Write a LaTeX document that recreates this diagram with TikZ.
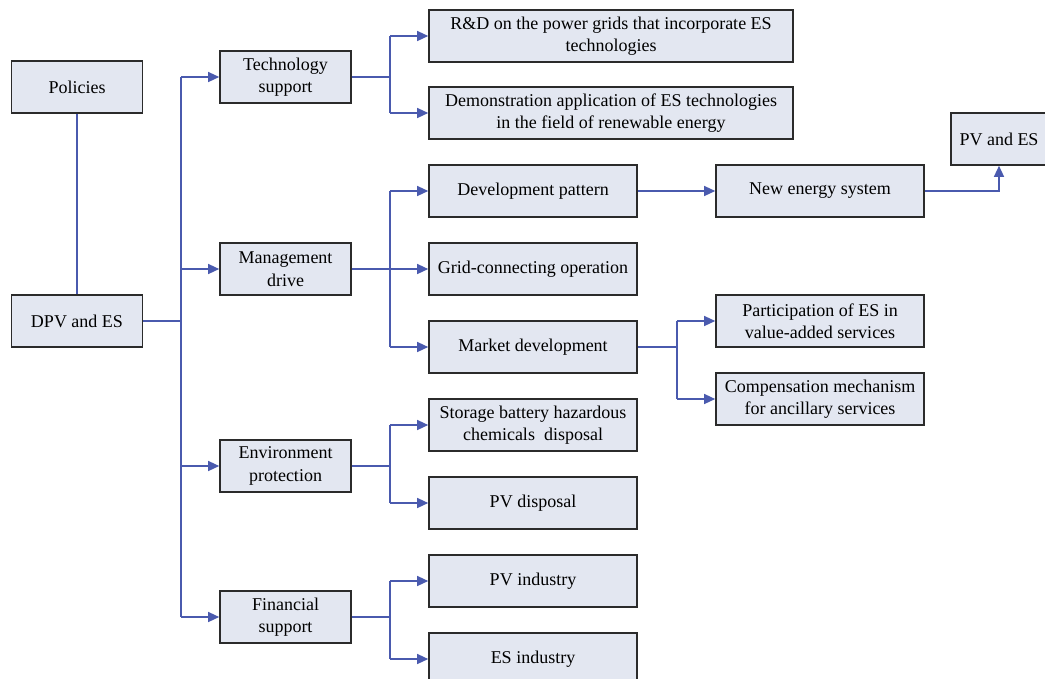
\documentclass[tikz,border=0pt]{standalone}
\usepackage{fontspec}
\setmainfont{Liberation Serif}
\usetikzlibrary{positioning,arrows.meta}
\definecolor{ink}{HTML}{2B2B2B}
\definecolor{boxFill}{HTML}{E3E7F1}
\definecolor{wire}{HTML}{4A5AAE}
\tikzset{
  box/.style={draw=ink, fill=boxFill, line width=1.6pt, align=center, inner sep=2pt,
    minimum height=52pt, font=\fontsize{18}{22.5}\selectfont},
  lvA/.style={box, minimum width=131pt},
  lvB/.style={box, minimum width=208pt},
  lvW/.style={box, minimum width=364pt},
  link/.style={wire, line width=1.3pt},
  feed/.style={link, -{Triangle[length=11pt,width=10pt]}},
}
\begin{document}
\begin{tikzpicture}[x=1pt,y=-1pt]
\useasboundingbox (0,0) rectangle (1045,678);
% left column
\node[lvA] (pol) at (77,87) {Policies};
\node[lvA] (dpv) at (77,321) {DPV and ES};
% second column
\node[lvA] (tech) at (285.5,77) {Technology\\support};
\node[lvA] (mgmt) at (285.5,269) {Management\\drive};
\node[lvA] (env) at (285.5,466) {Environment\\protection};
\node[lvA] (fin) at (285.5,617) {Financial\\support};
% third column
\node[lvW] (rnd) at (611,36) {R\&D on the power grids that incorporate ES\\technologies};
\node[lvW] (demo) at (611,113) {Demonstration application of ES technologies\\in the field of renewable energy};
\node[lvB] (dev) at (533,191) {Development pattern};
\node[lvB] (grid) at (533,269) {Grid-connecting operation};
\node[lvB] (mkt) at (533,347) {Market development};
\node[lvB] (bat) at (533,425) {Storage battery hazardous\\chemicals\ \ disposal};
\node[lvB] (pvd) at (533,503) {PV disposal};
\node[lvB] (pvi) at (533,581) {PV industry};
\node[lvB] (esi) at (533,659) {ES industry};
% fourth column
\node[lvB] (nes) at (820,191) {New energy system};
\node[lvB] (part) at (820,321) {Participation of ES in\\value-added services};
\node[lvB] (comp) at (820,399) {Compensation mechanism\\for ancillary services};
\node[box, minimum width=96pt] (pves) at (999,139) {PV and ES};
% links
\draw[link] (pol) -- (dpv);
\coordinate (trunk) at (181,0);
\draw[link] (dpv.east) -- (dpv.east -| trunk);
\draw[link] (tech.west -| trunk) -- (fin.west -| trunk);
\foreach \n in {tech,mgmt,env,fin}
  \draw[feed] (\n.west -| trunk) -- (\n.west);
\coordinate (fork) at (390,0);
\foreach \s/\a/\b in {tech/rnd/demo, mgmt/dev/mkt, env/bat/pvd, fin/pvi/esi} {
  \draw[link] (\s.east) -- (\s.east -| fork);
  \draw[link] (\a.west -| fork) -- (\b.west -| fork);
}
\foreach \n in {rnd,demo,dev,grid,mkt,bat,pvd,pvi,esi}
  \draw[feed] (\n.west -| fork) -- (\n.west);
\draw[feed] (dev) -- (nes);
\draw[feed] (nes.east) -| (pves.south);
\coordinate (fork2) at (677,0);
\draw[link] (mkt.east) -- (mkt.east -| fork2);
\draw[link] (part.west -| fork2) -- (comp.west -| fork2);
\foreach \n in {part,comp}
  \draw[feed] (\n.west -| fork2) -- (\n.west);
\end{tikzpicture}
\end{document}
